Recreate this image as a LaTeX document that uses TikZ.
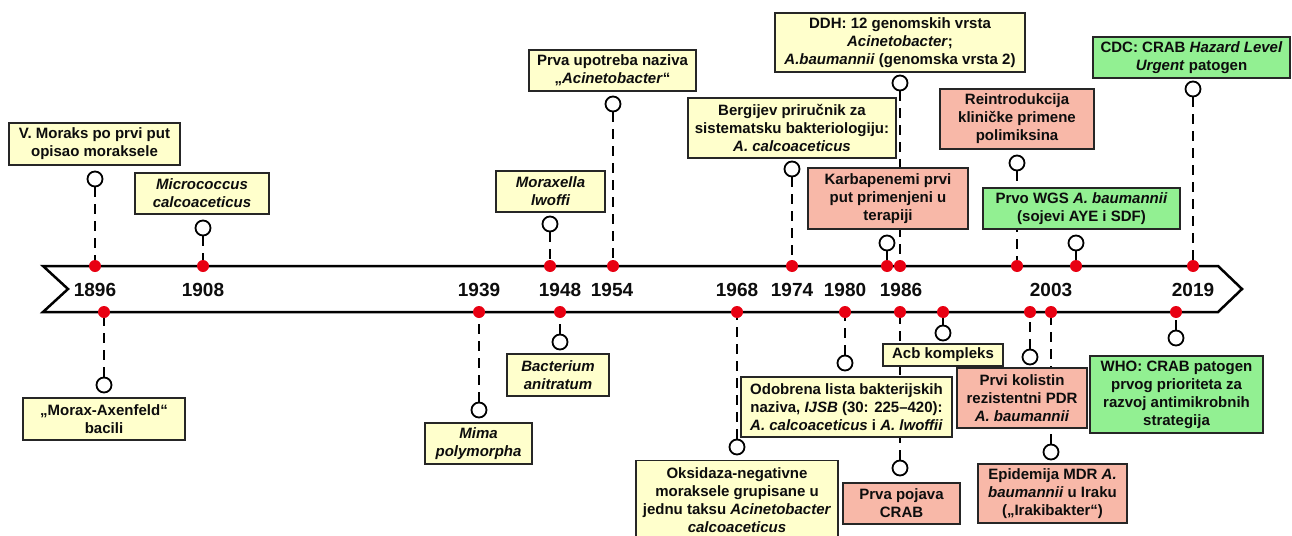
\documentclass[tikz,border=0pt]{standalone}
\usepackage{fontspec}
\setmainfont{Liberation Sans}
\definecolor{yel}{RGB}{255,255,204}
\definecolor{sal}{RGB}{248,184,168}
\definecolor{grn}{RGB}{146,240,146}
\definecolor{dotred}{RGB}{232,0,18}
\newcommand{\bxfont}{\bfseries\fontsize{15}{18}\selectfont}
\newcommand{\yrfont}{\bfseries\fontsize{19}{22}\selectfont}
\pgfdeclarelayer{bg}
\pgfsetlayers{bg,main}
\begin{document}
\begin{tikzpicture}[x=1pt,y=-1pt,
 box/.style={draw=black!85,line width=1.6pt,align=center,inner sep=0pt,font=\bxfont,text=black!95},
 ybox/.style={box,fill=yel},
 sbox/.style={box,fill=sal},
 gbox/.style={box,fill=grn},
 ring/.style={circle,draw=black,fill=white,line width=1.8pt,minimum size=15pt,inner sep=0pt},
 rdot/.style={circle,fill=dotred,minimum size=12pt,inner sep=0pt},
 conn/.style={line width=2.6pt,dash pattern=on 10pt off 7pt},
 year/.style={font=\yrfont,text=black!95,inner sep=0pt}]
\useasboundingbox (0,0) rectangle (1292,535);
\clip (0,0) rectangle (1292,535);

% band
\begin{pgfonlayer}{bg}
\draw[line width=2.5pt,fill=white,line join=miter] (43,266) -- (1218,266) -- (1242,289) -- (1218,312) -- (43,312) -- (68,289) -- cycle;
\end{pgfonlayer}

% years
\node[year] (y1896) at (95,290) {1896};
\node[year] (y1908) at (203,290) {1908};
\node[year] (y1939) at (479,290) {1939};
\node[year] (y1948) at (560,290) {1948};
\node[year] (y1954) at (612,290) {1954};
\node[year] (y1968) at (737,290) {1968};
\node[year] (y1974) at (792,290) {1974};
\node[year] (y1980) at (845,290) {1980};
\node[year] (y1986) at (901,290) {1986};
\node[year] (y2003) at (1051,290) {2003};
\node[year] (y2019) at (1193,290) {2019};

% top boxes
\node[ybox,minimum width=171pt,minimum height=42pt] (bt1) at (94.5,144) {V. Moraks po prvi put\\opisao moraksele};
\node[ybox,minimum width=134pt,minimum height=41pt] (bt2) at (202,193.5) {\itshape Micrococcus\\\itshape calcoaceticus};
\node[ybox,minimum width=109pt,minimum height=41pt] (bt3) at (550.5,191.5) {\itshape Moraxella\\\itshape lwoffi};
\node[ybox,minimum width=167pt,minimum height=41pt] (bt4) at (612.5,70.5) {Prva upotreba naziva\\„\textit{Acinetobacter}“};
\node[ybox,minimum width=208pt,minimum height=60pt] (bt5) at (792,128) {Bergijev priručnik za\\sistematsku bakteriologiju:\\\textit{A. calcoaceticus}};
\node[ybox,minimum width=250pt,minimum height=59pt] (bt6) at (900,42.5) {DDH: 12 genomskih vrsta\\\textit{Acinetobacter};\\\textit{A.baumannii} (genomska vrsta 2)};
\node[sbox,minimum width=160pt,minimum height=61pt] (bt7) at (888,198.5) {Karbapenemi prvi\\put primenjeni u\\terapiji};
\node[sbox,minimum width=154pt,minimum height=60pt] (bt8) at (1017,119) {Reintrodukcija\\kliničke primene\\polimiksina};
\node[gbox,minimum width=197pt,minimum height=41pt] (bt9) at (1081.5,208.5) {Prvo WGS \textit{A. baumannii}\\(sojevi AYE i SDF)};
\node[gbox,minimum width=197pt,minimum height=41pt] (bt10) at (1191.5,57.5) {CDC: CRAB \textit{Hazard Level}\\\textit{Urgent} patogen};

% bottom boxes
\node[ybox,minimum width=162pt,minimum height=42pt] (bb1) at (104,419) {„Morax-Axenfeld“\\bacili};
\node[ybox,minimum width=107pt,minimum height=41pt] (bb2) at (478.5,443.5) {\itshape Mima\\\itshape polymorpha};
\node[ybox,minimum width=102pt,minimum height=42pt] (bb3) at (558,375) {\itshape Bacterium\\\itshape anitratum};
\node[ybox,minimum width=202pt,minimum height=80pt] (bb4) at (737,500.5) {Oksidaza-negativne\\moraksele grupisane u\\jednu taksu \textit{Acinetobacter}\\\textit{calcoaceticus}};
\node[ybox,minimum width=211pt,minimum height=60pt] (bb5) at (846.5,407) {Odobrena lista bakterijskih\\naziva, \textit{IJSB} (30: 225–420):\\\textit{A. calcoaceticus} i \textit{A. lwoffii}};
\node[ybox,minimum width=120pt,minimum height=22pt] (bb6) at (943,355) {Acb kompleks};
\node[sbox,minimum width=117pt,minimum height=41pt] (bb7) at (901.5,503.5) {Prva pojava\\CRAB};
\node[sbox,minimum width=130pt,minimum height=60pt] (bb8) at (1022,398) {Prvi kolistin\\rezistentni PDR\\\textit{A. baumannii}};
\node[sbox,minimum width=149pt,minimum height=59pt] (bb9) at (1052.5,493.5) {Epidemija MDR \textit{A.}\\\textit{baumannii} u Iraku\\(„Irakibakter“)};
\node[gbox,minimum width=173pt,minimum height=77pt] (bb10) at (1176.5,394.5) {WHO: CRAB patogen\\prvog prioriteta za\\razvoj antimikrobnih\\strategija};

% rings
\node[ring] (rt1) at (95,179) {};
\node[ring] (rt2) at (203,228) {};
\node[ring] (rt3) at (550,224) {};
\node[ring] (rt4) at (613,104) {};
\node[ring] (rt5) at (792,169) {};
\node[ring] (rt6) at (900,83) {};
\node[ring] (rt7) at (887,243) {};
\node[ring] (rt8) at (1017,163) {};
\node[ring] (rt9) at (1076,243) {};
\node[ring] (rt10) at (1193,89) {};
\node[ring] (rb1) at (104,385) {};
\node[ring] (rb2) at (479,410) {};
\node[ring] (rb3) at (560,342) {};
\node[ring] (rb4) at (737,447) {};
\node[ring] (rb5) at (845,363) {};
\node[ring] (rb6) at (943,333) {};
\node[ring] (rb7) at (900,468) {};
\node[ring] (rb8) at (1030,357) {};
\node[ring] (rb9) at (1051,452) {};
\node[ring] (rb10) at (1176,338) {};

% dots
\node[rdot] (dt1) at (95,266) {};
\node[rdot] (dt2) at (203,266) {};
\node[rdot] (dt3) at (550,266) {};
\node[rdot] (dt4) at (613,266) {};
\node[rdot] (dt5) at (792,266) {};
\node[rdot] (dt6) at (900,266) {};
\node[rdot] (dt7) at (887,266) {};
\node[rdot] (dt8) at (1017,266) {};
\node[rdot] (dt9) at (1076,266) {};
\node[rdot] (dt10) at (1193,266) {};
\node[rdot] (db1) at (104,312) {};
\node[rdot] (db2) at (479,312) {};
\node[rdot] (db3) at (560,312) {};
\node[rdot] (db4) at (737,312) {};
\node[rdot] (db5) at (845,312) {};
\node[rdot] (db6) at (943,312) {};
\node[rdot] (db7) at (900,312) {};
\node[rdot] (db8) at (1030,312) {};
\node[rdot] (db9) at (1051,312) {};
\node[rdot] (db10) at (1176,312) {};

% connectors (dash starts at the ring)
\begin{pgfonlayer}{bg}
\foreach \i in {1,...,10}{
  \draw[conn] (rt\i) -- (dt\i.center);
  \draw[conn] (rb\i) -- (db\i.center);
}
\end{pgfonlayer}
\end{tikzpicture}
\end{document}
